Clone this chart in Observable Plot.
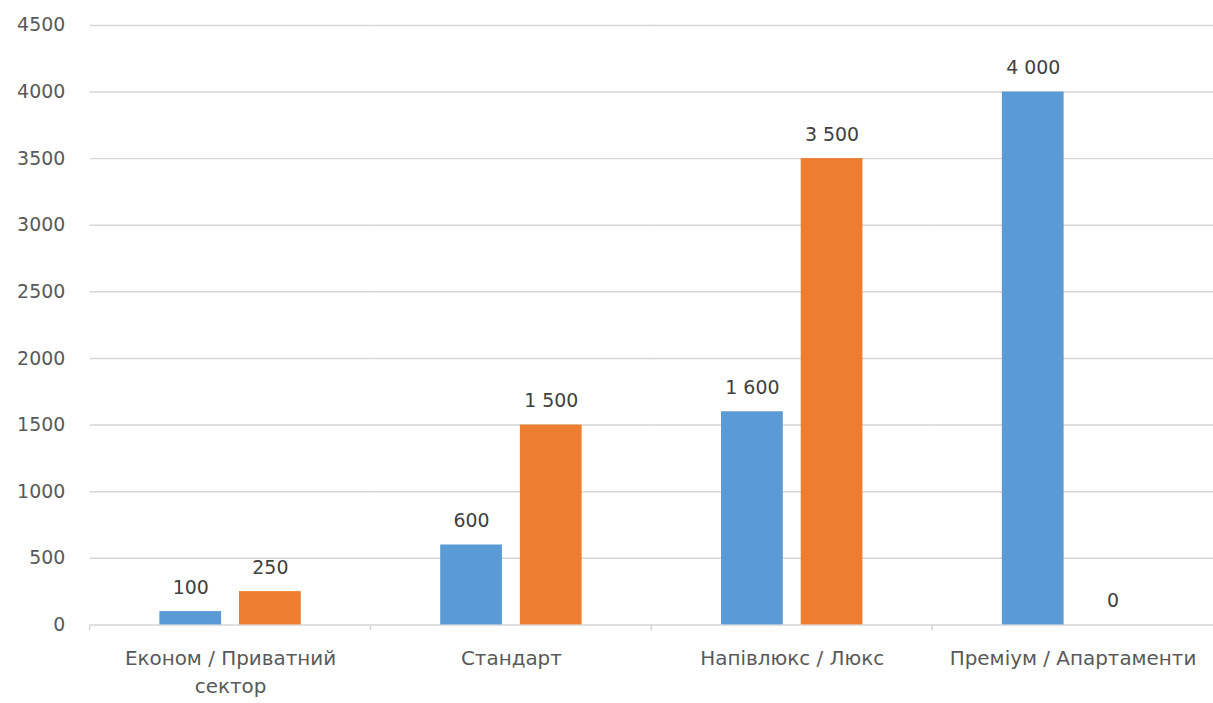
<!DOCTYPE html>
<html lang="uk">
<head>
<meta charset="utf-8">
<title>Категорії номерів</title>
<script src="https://cdn.jsdelivr.net/npm/d3@7"></script>
<script src="https://cdn.jsdelivr.net/npm/@observablehq/plot@0.6"></script>
<style>
  html, body { margin: 0; padding: 0; background: #fff; overflow: hidden; }
  #chart svg { display: block; }
</style>
</head>
<body>
<div id="chart"></div>
<script>
// Room categories and their axis labels (with a manual line break)
const categories = ["Економ / Приватний сектор", "Стандарт", "Напівлюкс / Люкс", "Преміум / Апартаменти"];
const categoryLabels = ["Економ / Приватний\nсектор", "Стандарт", "Напівлюкс / Люкс", "Преміум / Апартаменти"];

// Two series per category
const seriesNames = ["Ряд 1", "Ряд 2"];
const series1 = [100, 600, 1600, 4000];
const series2 = [250, 1500, 3500, 0];
const seriesColors = ["#5B9BD5", "#ED7D31"];

// Value axis ticks
const yTicks = [0, 500, 1000, 1500, 2000, 2500, 3000, 3500, 4000, 4500];

const data = categories.flatMap((c, i) => [
  {category: c, series: seriesNames[0], value: series1[i]},
  {category: c, series: seriesNames[1], value: series2[i]}
]);

const labelOf = new Map(categories.map((c, i) => [c, categoryLabels[i]]));
const valueFormat = v => d3.format(",")(v).replace(/,/g, " ");

// Short tick marks at the left edge of every category band, below the baseline
const bandEdgeTicks = (index, scales, values, dimensions) => {
  const y0 = scales.y(0);
  const g = d3.create("svg:g");
  g.append("line")
    .attr("x1", dimensions.marginLeft).attr("x2", dimensions.marginLeft)
    .attr("y1", y0).attr("y2", y0 + 6)
    .attr("stroke", "#d6d6d6").attr("stroke-width", 1.5);
  return g.node();
};

const chart = Plot.plot({
  width: 1218,
  height: 703,
  marginLeft: 90,
  marginRight: 0,
  marginTop: 25,
  marginBottom: 76,
  style: {fontFamily: "'DejaVu Sans', 'Noto Sans', sans-serif", fontSize: "19px", color: "#595959", background: "#fff"},
  fx: {domain: categories, padding: 0, label: null, axis: null},
  x: {domain: seriesNames, paddingInner: 0.222, paddingOuter: 0.852, axis: null},
  y: {domain: [0, 4500], label: null, axis: null},
  color: {domain: seriesNames, range: seriesColors},
  marks: [
    Plot.gridY(yTicks, {stroke: "#d6d6d6", strokeOpacity: 1, strokeWidth: 1.5}),
    Plot.axisY(yTicks, {tickSize: 0, tickPadding: 25, tickFormat: d => String(d), label: null, fontSize: 19, fill: "#595959"}),
    Plot.barY(data, {fx: "category", x: "series", y: "value", fill: "series"}),
    Plot.text(data, {
      fx: "category", x: "series", y: "value",
      text: d => valueFormat(d.value),
      lineAnchor: "bottom", dy: -18, fontSize: 19, fill: "#404040"
    }),
    bandEdgeTicks,
    Plot.axisFx({
      anchor: "bottom", tickSize: 0, tickPadding: 21, label: null,
      tickFormat: d => labelOf.get(d), lineHeight: 1.38, fontSize: 20, fill: "#595959"
    })
  ]
});

document.getElementById("chart").append(chart);
</script>
</body>
</html>
